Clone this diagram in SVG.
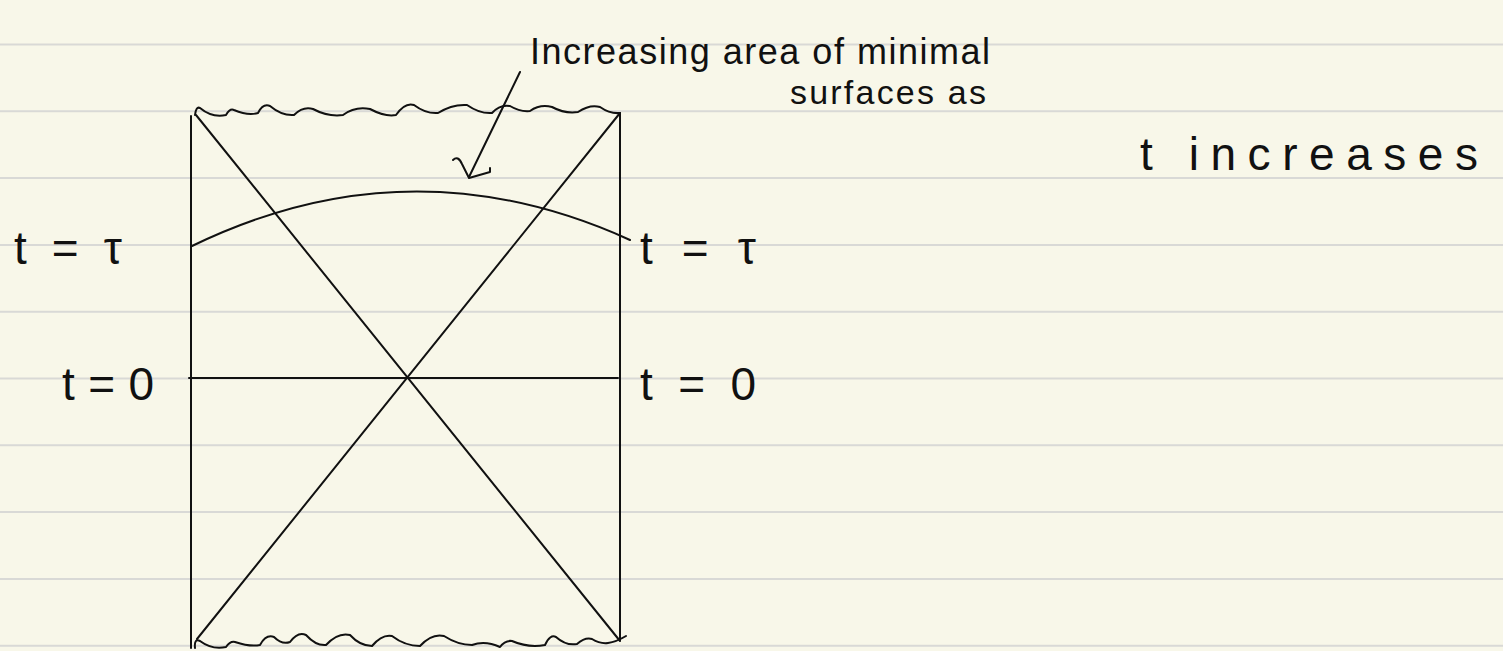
<svg xmlns="http://www.w3.org/2000/svg" width="1503" height="651" viewBox="0 0 1503 651">
<style>
.rule{stroke:#d9d9d6;stroke-width:2}
.ink{stroke:#111;stroke-width:2;fill:none;stroke-linecap:round;stroke-linejoin:round}
.lbl{font-family:"Liberation Sans",Arial,sans-serif;font-size:46px;fill:#111}
.note{font-family:"Liberation Sans",Arial,sans-serif;fill:#111}
</style>
<rect width="1503" height="651" fill="#f8f7e9"/>
<g id="paper-rules">
<line class="rule" x1="0" y1="44.5" x2="1503" y2="44.5"/>
<line class="rule" x1="0" y1="111.3" x2="1503" y2="111.3"/>
<line class="rule" x1="0" y1="178.1" x2="1503" y2="178.1"/>
<line class="rule" x1="0" y1="244.9" x2="1503" y2="244.9"/>
<line class="rule" x1="0" y1="311.7" x2="1503" y2="311.7"/>
<line class="rule" x1="0" y1="378.5" x2="1503" y2="378.5"/>
<line class="rule" x1="0" y1="445.3" x2="1503" y2="445.3"/>
<line class="rule" x1="0" y1="512.1" x2="1503" y2="512.1"/>
<line class="rule" x1="0" y1="578.9" x2="1503" y2="578.9"/>
<line class="rule" x1="0" y1="645.7" x2="1503" y2="645.7"/>
</g>
<g id="penrose-diagram">
<line class="ink" x1="191" y1="116" x2="191" y2="648"/>
<line class="ink" x1="620" y1="113" x2="620" y2="640"/>
<path class="ink" d="M195,115 Q196,106 200,108 Q212,118 226,115 Q230,108 234,110 Q248,116 258,113 Q263,103 270,106 Q282,116 294,115 Q303,106 313,109 Q328,117 343,115 Q355,106 370,109 Q385,117 396,115 Q405,102 414,105 Q426,114 438,113 Q452,104 467,105 Q480,114 492,113 Q500,104 510,106 Q520,112 530,111 Q540,104 552,107 Q565,114 578,112 Q590,104 600,107 Q610,114 620,113"/>
<path class="ink" d="M195,648 Q194,638 200,641 Q212,650 226,647 Q230,641 235,642 Q250,647 260,645 Q266,634 274,637 Q282,645 290,642 Q298,631 306,635 Q316,646 326,645 Q338,632 350,635 Q360,646 372,646 Q382,634 392,636 Q405,646 420,646 Q432,633 444,636 Q458,645 472,645 Q485,640 500,647 Q505,640 512,641 Q528,648 545,645 Q550,634 556,637 Q566,646 577,644 Q585,637 592,639 Q600,644 608,643 Q616,642 626,636"/>
<line class="ink" x1="196" y1="115" x2="620" y2="641"/>
<line class="ink" x1="620" y1="113" x2="197" y2="639"/>
<line class="ink" x1="189" y1="378" x2="618" y2="378"/>
<path class="ink" d="M192,246 Q410,140 630,240"/>
</g>
<g id="connectors">
<line class="ink" x1="520" y1="72" x2="469" y2="177"/>
<path class="ink" d="M453,160 Q458,155 462,164 L469,178 L490,172 L490,168"/>
</g>
<g id="labels">
<text class="lbl" x="14" y="264" textLength="108" lengthAdjust="spacing">t=τ</text>
<text class="lbl" x="640" y="264" textLength="116" lengthAdjust="spacing">t=τ</text>
<text class="lbl" x="62" y="400" textLength="92" lengthAdjust="spacing">t=0</text>
<text class="lbl" x="640" y="400" textLength="116" lengthAdjust="spacing">t=0</text>
<text class="note" x="530" y="64" font-size="36" textLength="460" lengthAdjust="spacing">Increasing area of minimal</text>
<text class="note" x="790" y="104" font-size="34" textLength="196" lengthAdjust="spacing">surfaces as</text>
<text class="note" x="1140" y="170" font-size="46" textLength="338" lengthAdjust="spacing">t increases</text>
</g>
</svg>
